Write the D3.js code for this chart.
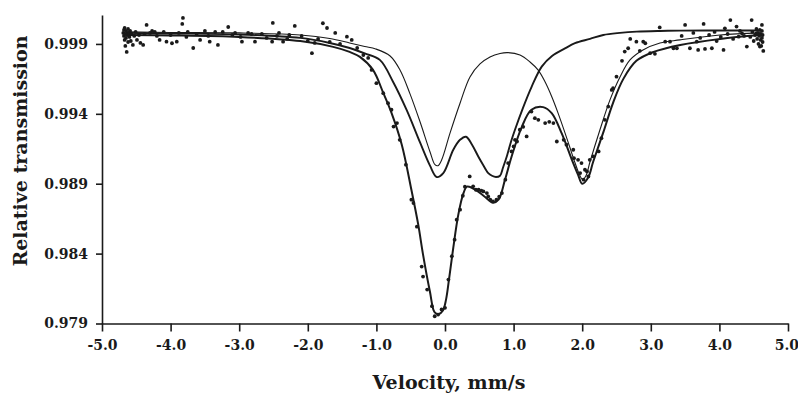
<!DOCTYPE html>
<html>
<head>
<meta charset="utf-8">
<script src="https://cdn.jsdelivr.net/npm/d3@7/dist/d3.min.js"></script>
<style>
  html, body { margin: 0; padding: 0; background: #ffffff; }
  svg { display: block; }
  text { font-family: "DejaVu Serif", serif; font-weight: bold; fill: #1a1a1a; }
</style>
</head>
<body>
<script>
// ---------- data ----------
const velocityTicks = [-5, -4, -3, -2, -1, 0, 1, 2, 3, 4, 5];
const transmissionTicks = [0.979, 0.984, 0.989, 0.994, 0.999];

// total fit (velocity mm/s, relative transmission)
const fitTotal = [
  [-4.65,0.99964],[-4.01,0.99961],[-3.00,0.99950],[-2.11,0.99921],[-1.63,0.99879],
  [-1.39,0.99843],[-1.24,0.99807],[-1.05,0.99714],[-0.90,0.99550],[-0.78,0.99407],
  [-0.63,0.99179],[-0.49,0.98857],[-0.39,0.98607],[-0.32,0.98393],[-0.22,0.98129],
  [-0.15,0.97979],[-0.09,0.97968],[-0.03,0.97993],[0.015,0.98071],[0.058,0.98214],
  [0.121,0.98443],[0.194,0.98679],[0.267,0.98829],[0.321,0.98879],[0.44,0.98857],
  [0.58,0.98807],[0.70,0.98764],[0.78,0.98786],[0.875,0.98929],[0.97,0.99093],
  [1.12,0.99307],[1.26,0.99429],[1.43,0.99448],[1.555,0.99405],[1.70,0.99262],
  [1.85,0.99071],[1.94,0.98964],[2.00,0.98900],[2.085,0.98943],[2.16,0.99057],
  [2.31,0.99271],[2.45,0.99479],[2.60,0.99650],[2.79,0.99779],[3.04,0.99843],
  [3.43,0.99893],[4.01,0.99936],[4.59,0.99964]
];

// doublet with lines near -0.15 and 0.76 mm/s (heavier line)
const doubletA = [
  [-4.65,0.99979],[-4.01,0.99975],[-3.00,0.99968],[-2.11,0.99943],[-1.68,0.99907],
  [-1.39,0.99871],[-1.17,0.99832],[-0.95,0.99786],[-0.754,0.99626],[-0.558,0.99426],
  [-0.364,0.99195],[-0.219,0.99029],[-0.121,0.98948],[-0.025,0.98976],[0.121,0.99143],
  [0.219,0.99214],[0.306,0.99236],[0.394,0.99179],[0.485,0.99095],[0.554,0.99036],
  [0.631,0.98976],[0.685,0.98957],[0.743,0.98948],[0.802,0.98957],[0.845,0.99014],
  [0.904,0.99100],[0.962,0.99200],[1.020,0.99286],[1.137,0.99443],[1.264,0.99595],
  [1.410,0.99738],[1.560,0.99814],[1.749,0.99868],[1.895,0.99905],[2.114,0.99936],
  [2.308,0.99964],[2.551,0.99979],[2.794,0.99988],[3.134,0.99993],[3.426,0.99995],
  [4.009,0.99996],[4.592,0.99996]
];

// doublet with lines near -0.15 and 2.0 mm/s (thin line)
const doubletB = [
  [-4.65,0.99986],[-4.01,0.99982],[-3.00,0.99979],[-2.11,0.99964],[-1.68,0.99939],
  [-1.39,0.99907],[-1.17,0.99882],[-1.01,0.99864],[-0.80,0.99814],[-0.656,0.99714],
  [-0.510,0.99543],[-0.364,0.99343],[-0.219,0.99129],[-0.146,0.99036],[-0.102,0.99029],
  [-0.048,0.99071],[0.073,0.99262],[0.219,0.99476],[0.364,0.99664],[0.510,0.99757],
  [0.656,0.99807],[0.802,0.99832],[0.918,0.99838],[1.093,0.99821],[1.239,0.99771],
  [1.356,0.99714],[1.458,0.99629],[1.555,0.99524],[1.647,0.99407],[1.749,0.99264],
  [1.822,0.99157],[1.895,0.99050],[1.961,0.98964],[2.007,0.98929],[2.055,0.98957],
  [2.114,0.99057],[2.259,0.99286],[2.405,0.99500],[2.551,0.99664],[2.697,0.99786],
  [2.886,0.99857],[3.134,0.99907],[3.426,0.99929],[4.009,0.99964],[4.592,0.99979]
];

// measured spectrum points
const measured = [
  [-4.69,0.99979],[-4.68,1.00000],[-4.68,0.99957],[-4.67,1.00014],[-4.67,0.99929],[-4.66,0.99971],
  [-4.66,0.99886],[-4.65,0.99993],[-4.65,0.99943],[-4.64,0.99843],[-4.63,0.99964],[-4.62,1.00007],
  [-4.62,0.99914],[-4.61,0.99979],[-4.60,0.99950],[-4.59,0.99993],[-4.58,0.99921],[-4.57,0.99971],
  [-4.55,0.99893],[-4.53,0.99957],[-4.51,0.99986],[-4.49,0.99929],[-4.46,0.99964],[-4.44,0.99907],
  [-4.40,0.99893],[-4.38,0.99971],[-4.35,1.00036],[-4.30,0.99979],[-4.27,0.99993],[-4.23,0.99986],
  [-4.20,0.99957],[-4.16,0.99929],[-4.10,0.99986],[-4.06,0.99916],[-4.00,0.99964],[-3.98,0.99905],
  [-3.91,0.99916],[-3.88,0.99979],[-3.83,1.00043],[-3.82,1.00086],[-3.77,0.99950],[-3.75,0.99986],
  [-3.67,0.99871],[-3.62,0.99971],[-3.57,0.99929],[-3.50,0.99993],[-3.45,0.99957],[-3.43,0.99916],
  [-3.35,0.99986],[-3.31,0.99893],[-3.24,0.99986],[-3.16,1.00021],[-3.10,0.99964],[-3.06,0.99979],
  [-2.98,0.99950],[-2.96,0.99916],[-2.87,0.99979],[-2.82,0.99971],[-2.77,0.99916],[-2.67,0.99971],
  [-2.60,0.99943],[-2.52,0.99916],[-2.51,1.00050],[-2.45,0.99957],[-2.42,0.99979],[-2.36,0.99916],
  [-2.30,0.99936],[-2.27,0.99964],[-2.19,1.00029],[-2.09,0.99957],[-2.00,0.99921],[-1.94,0.99834],
  [-1.90,0.99907],[-1.85,0.99936],[-1.78,1.00048],[-1.72,1.00014],[-1.68,0.99914],[-1.60,0.99979],
  [-1.53,0.99900],[-1.43,0.99952],[-1.36,0.99929],[-1.28,0.99871],[-1.19,0.99821],[-1.12,0.99800],
  [-1.07,0.99714],[-1.00,0.99619],[-0.90,0.99548],[-0.83,0.99476],[-0.78,0.99429],[-0.75,0.99309],
  [-0.70,0.99334],[-0.66,0.99214],[-0.57,0.99036],[-0.49,0.98786],[-0.46,0.98762],[-0.41,0.98593],
  [-0.34,0.98307],[-0.32,0.98236],[-0.26,0.98143],[-0.19,0.98024],[-0.15,0.97952],[-0.10,0.97964],
  [-0.05,0.98000],[0.00,0.98012],[0.05,0.98214],[0.10,0.98381],[0.14,0.98500],[0.17,0.98643],
  [0.22,0.98714],[0.26,0.98814],[0.29,0.98879],[0.36,0.98952],[0.41,0.98881],[0.45,0.98857],
  [0.49,0.98857],[0.53,0.98850],[0.56,0.98845],[0.61,0.98833],[0.63,0.98809],[0.66,0.98786],
  [0.70,0.98774],[0.75,0.98786],[0.79,0.98807],[0.83,0.98833],[0.88,0.98929],[0.92,0.99048],
  [0.97,0.99131],[1.00,0.99167],[1.02,0.99214],[1.05,0.99202],[1.09,0.99286],[1.14,0.99307],
  [1.19,0.99238],[1.26,0.99416],[1.31,0.99369],[1.36,0.99357],[1.46,0.99334],[1.52,0.99343],
  [1.58,0.99334],[1.63,0.99202],[1.73,0.99214],[1.77,0.99179],[1.87,0.99143],[1.88,0.99083],
  [1.94,0.99071],[1.97,0.98976],[1.99,0.99048],[2.02,0.98929],[2.04,0.99000],[2.07,0.98988],
  [2.09,0.98952],[2.11,0.99071],[2.16,0.99095],[2.24,0.99131],[2.28,0.99226],[2.33,0.99357],
  [2.38,0.99452],[2.43,0.99571],[2.45,0.99583],[2.50,0.99666],[2.58,0.99779],[2.62,0.99845],
  [2.67,0.99869],[2.70,0.99936],[2.79,0.99916],[2.84,0.99851],[2.89,0.99916],[2.92,0.99905],
  [2.99,0.99834],[3.06,0.99829],[3.13,1.00018],[3.21,0.99916],[3.28,0.99916],[3.33,0.99869],
  [3.38,0.99869],[3.45,0.99957],[3.50,1.00036],[3.57,0.99869],[3.62,0.99979],[3.67,0.99916],
  [3.69,0.99857],[3.72,0.99943],[3.77,1.00043],[3.79,0.99864],[3.85,0.99964],[3.89,0.99869],
  [3.93,0.99986],[3.96,0.99921],[4.02,0.99950],[4.06,0.99857],[4.08,1.00012],[4.12,0.99971],
  [4.16,1.00071],[4.20,0.99936],[4.25,1.00024],[4.28,0.99952],[4.30,0.99993],[4.33,0.99976],
  [4.36,0.99957],[4.40,0.99881],[4.45,0.99950],[4.47,1.00071],[4.48,0.99986],[4.50,0.99921],
  [4.52,0.99964],[4.54,1.00007],[4.54,0.99976],[4.55,0.99936],[4.56,0.99979],[4.57,0.99900],
  [4.58,0.99957],[4.59,0.99881],[4.59,1.00000],[4.60,0.99929],[4.60,0.99971],[4.61,0.99886],
  [4.62,1.00036],[4.62,0.99943],[4.62,0.99993],[4.63,0.99914],[4.63,0.99964],[4.64,0.99850]
];

// ---------- chart ----------
const W = 798, H = 393;
const svg = d3.select("body").append("svg").attr("width", W).attr("height", H);

const x = d3.scaleLinear().domain([-5, 5]).range([102, 788]);
const y = d3.scaleLinear().domain([0.979, 1.00107]).range([323.5, 15]);

const line = d3.line()
  .x(d => x(d[0]))
  .y(d => y(d[1]))
  .curve(d3.curveCatmullRom.alpha(0.5));

svg.append("path").datum(doubletB)
  .attr("d", line).attr("fill", "none").attr("stroke", "#1a1a1a").attr("stroke-width", 1.1);
svg.append("path").datum(doubletA)
  .attr("d", line).attr("fill", "none").attr("stroke", "#1a1a1a").attr("stroke-width", 1.9);
svg.append("path").datum(fitTotal)
  .attr("d", line).attr("fill", "none").attr("stroke", "#1a1a1a").attr("stroke-width", 2);

svg.append("g").selectAll("circle").data(measured).join("circle")
  .attr("cx", d => x(d[0])).attr("cy", d => y(d[1])).attr("r", 1.9).attr("fill", "#1a1a1a");

// axes
const xAxis = d3.axisBottom(x).tickValues(velocityTicks)
  .tickFormat(d => d.toFixed(1)).tickSize(8).tickSizeOuter(0).tickPadding(8.5);
const gx = svg.append("g").attr("transform", "translate(0,323.5)").call(xAxis);

const yAxis = d3.axisLeft(y).tickValues(transmissionTicks)
  .tickFormat(d => d.toFixed(3)).tickSize(6).tickSizeOuter(0).tickPadding(8);
const gy = svg.append("g").attr("transform", "translate(102,0)").call(yAxis);

[gx, gy].forEach(g => {
  g.select(".domain").attr("stroke", "#1a1a1a").attr("stroke-width", 1.6);
  g.selectAll(".tick line").attr("stroke", "#1a1a1a").attr("stroke-width", 1.6);
  g.selectAll(".tick text").attr("fill", "#1a1a1a")
    .style("font-family", "'DejaVu Serif', serif").style("font-weight", "bold").style("font-size", "14px");
});
// keep the last velocity label inside the picture
gx.selectAll(".tick text").filter(d => d === 5).attr("text-anchor", "end").attr("dx", "10.5");

svg.append("text").attr("x", 449).attr("y", 389).attr("text-anchor", "middle")
  .style("font-size", "19px").text("Velocity, mm/s");

svg.append("text").attr("transform", "translate(27,151) rotate(-90)").attr("text-anchor", "middle")
  .style("font-size", "19px").text("Relative transmission");
</script>
</body>
</html>
